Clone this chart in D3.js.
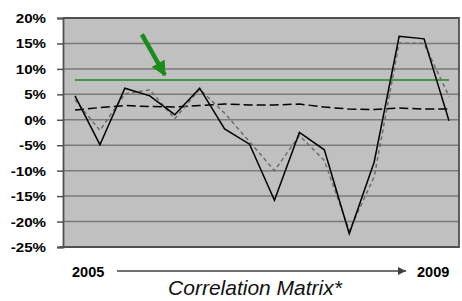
<!DOCTYPE html>
<html lang="en">
<head>
  <meta charset="UTF-8" />
  <title>Correlation Matrix</title>
  <script src="https://d3js.org/d3.v7.min.js"></script>
  <style>
    html, body {
      margin: 0;
      padding: 0;
      background: #fff;
      overflow: hidden;
      font-family: "Liberation Sans", Arial, sans-serif;
    }
  </style>
</head>
<body>
  <div id="chart"></div>

  <script>
    // quarterly points from 2005 to 2009
    const periods = d3.range(16);

    // solid black series
    const seriesSolid = [4.7, -4.9, 6.2, 4.7, 1.0, 6.2, -1.8, -4.8, -15.8, -2.5, -5.9, -22.4, -8.3, 16.4, 15.9, -0.2];
    // grey short-dashed series
    const seriesGrey = [3.9, -2.1, 5.1, 5.9, 0.2, 6.0, 1.3, -4.3, -10.0, -3.1, -8.0, -21.8, -11.2, 15.1, 15.0, 4.6];
    // black long-dashed series
    const seriesDashed = [1.9, 2.4, 2.8, 2.6, 2.5, 2.8, 3.1, 2.9, 2.9, 3.1, 2.5, 2.1, 2.0, 2.3, 2.1, 2.1];
    // green reference level
    const referenceLevel = 7.8;

    const yTicks = [20, 15, 10, 5, 0, -5, -10, -15, -20, -25];
    const startLabel = "2005";
    const endLabel = "2009";
    const caption = "Correlation Matrix*";

    const width = 462, height = 301;
    const plot = { left: 63, right: 459, top: 18, bottom: 247 };

    const svg = d3.select("#chart")
      .append("svg")
      .attr("width", width)
      .attr("height", height);

    const x = d3.scalePoint()
      .domain(periods)
      .range([75, 449]);

    const y = d3.scaleLinear()
      .domain([-25, 20])
      .range([plot.bottom, plot.top]);

    // plot background
    svg.append("rect")
      .attr("x", plot.left)
      .attr("y", plot.top)
      .attr("width", plot.right - plot.left)
      .attr("height", plot.bottom - plot.top)
      .attr("fill", "#c0c0c0");

    // gridlines
    svg.append("g")
      .selectAll("line")
      .data(yTicks)
      .join("line")
      .attr("x1", plot.left)
      .attr("x2", plot.right)
      .attr("y1", d => y(d))
      .attr("y2", d => y(d))
      .attr("stroke", "#7a7a7a")
      .attr("stroke-width", 1.5);

    // frame: top, right, bottom
    svg.append("path")
      .attr("d", `M${plot.left},${plot.top}H${plot.right}V${plot.bottom}H${plot.left - 3}`)
      .attr("fill", "none")
      .attr("stroke", "#505050")
      .attr("stroke-width", 1.8);

    // y axis with ticks
    const yAxis = svg.append("g")
      .attr("transform", `translate(${plot.left},0)`)
      .call(d3.axisLeft(y).tickValues(yTicks).tickSize(6).tickFormat(""));
    yAxis.select(".domain").attr("stroke", "#505050").attr("stroke-width", 1.8);
    yAxis.selectAll(".tick line").attr("stroke", "#505050").attr("stroke-width", 1.5);

    // y labels, slightly stretched like the original
    svg.append("g")
      .selectAll("text")
      .data(yTicks)
      .join("text")
      .attr("transform", d => `translate(46,${y(d) + 5}) scale(1.12,1)`)
      .attr("text-anchor", "end")
      .attr("font-size", 13.5)
      .attr("font-weight", "bold")
      .attr("fill", "#000")
      .text(d => d + "%");

    // green reference line
    svg.append("line")
      .attr("x1", x(periods[0]))
      .attr("x2", x(periods[periods.length - 1]))
      .attr("y1", y(referenceLevel))
      .attr("y2", y(referenceLevel))
      .attr("stroke", "#1a8c1a")
      .attr("stroke-width", 1.5);

    const line = d3.line()
      .x((d, i) => x(periods[i]))
      .y(d => y(d));

    svg.append("path")
      .datum(seriesDashed)
      .attr("d", line)
      .attr("fill", "none")
      .attr("stroke", "#000")
      .attr("stroke-width", 1.5)
      .attr("stroke-dasharray", "9,4");

    svg.append("path")
      .datum(seriesGrey)
      .attr("d", line)
      .attr("fill", "none")
      .attr("stroke", "#6e6e6e")
      .attr("stroke-width", 1.5)
      .attr("stroke-dasharray", "4,3");

    svg.append("path")
      .datum(seriesSolid)
      .attr("d", line)
      .attr("fill", "none")
      .attr("stroke", "#000")
      .attr("stroke-width", 1.5);

    // green pointer arrow above the reference line
    const defs = svg.append("defs");
    defs.append("marker")
      .attr("id", "greenHead")
      .attr("viewBox", "0 0 10 10")
      .attr("refX", 9)
      .attr("refY", 5)
      .attr("markerUnits", "userSpaceOnUse")
      .attr("markerWidth", 15)
      .attr("markerHeight", 15)
      .attr("orient", "auto")
      .append("path")
      .attr("d", "M0,0L10,5L0,10Z")
      .attr("fill", "#1a8c1a");

    svg.append("line")
      .attr("x1", x(2) + 17)
      .attr("y1", y(16.8))
      .attr("x2", x(3) + 15)
      .attr("y2", y(8.8))
      .attr("stroke", "#1a8c1a")
      .attr("stroke-width", 4.5)
      .attr("marker-end", "url(#greenHead)");

    // bottom time arrow
    defs.append("marker")
      .attr("id", "greyHead")
      .attr("viewBox", "0 0 10 10")
      .attr("refX", 10)
      .attr("refY", 5)
      .attr("markerUnits", "userSpaceOnUse")
      .attr("markerWidth", 9)
      .attr("markerHeight", 8)
      .attr("orient", "auto")
      .append("path")
      .attr("d", "M0,0L10,5L0,10Z")
      .attr("fill", "#404040");

    svg.append("line")
      .attr("x1", 117)
      .attr("x2", 406)
      .attr("y1", 271)
      .attr("y2", 271)
      .attr("stroke", "#404040")
      .attr("stroke-width", 1.5)
      .attr("marker-end", "url(#greyHead)");

    svg.append("text")
      .attr("x", 72)
      .attr("y", 277)
      .attr("font-size", 14.5)
      .attr("font-weight", "bold")
      .text(startLabel);

    svg.append("text")
      .attr("x", 417)
      .attr("y", 277)
      .attr("font-size", 14.5)
      .attr("font-weight", "bold")
      .text(endLabel);

    svg.append("text")
      .attr("x", 255)
      .attr("y", 295)
      .attr("text-anchor", "middle")
      .attr("font-size", 21)
      .attr("font-style", "italic")
      .attr("fill", "#111")
      .text(caption);
  </script>
</body>
</html>
